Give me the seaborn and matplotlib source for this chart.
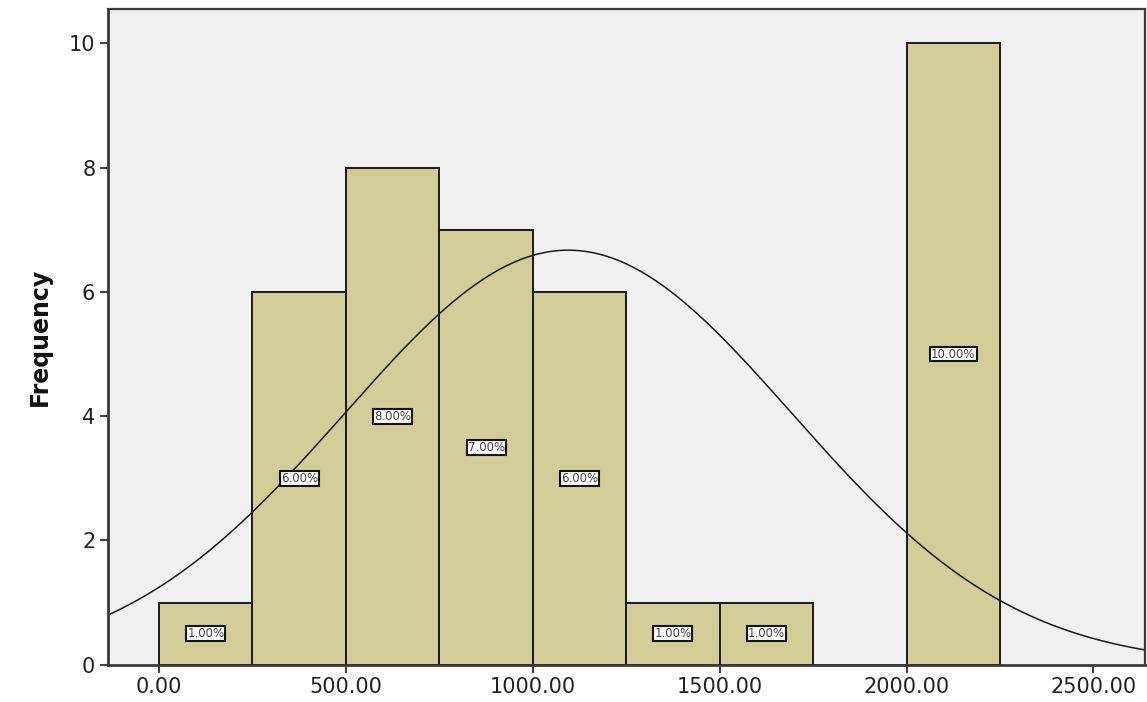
import numpy as np
import pandas as pd
import matplotlib
matplotlib.use("Agg")
import matplotlib.pyplot as plt
import seaborn as sns

# Histogram data: bin edges (width 250) and frequencies per bin
bin_edges = [0, 250, 500, 750, 1000, 1250, 1500, 1750, 2000, 2250]
frequencies = [1, 6, 8, 7, 6, 1, 1, 0, 10]
percent_labels = ["1.00%", "6.00%", "8.00%", "7.00%", "6.00%", "1.00%", "1.00%", "", "10.00%"]

# Fitted normal curve parameters
curve_mean = 1095.0
curve_sd = 598.0
x_ticks = [0, 500, 1000, 1500, 2000, 2500]
y_ticks = [0, 2, 4, 6, 8, 10]

sns.set_theme(style="white")
plt.rcParams["font.family"] = ["DejaVu Sans"]

bin_width = bin_edges[1] - bin_edges[0]
centers = [(a + b) / 2 for a, b in zip(bin_edges[:-1], bin_edges[1:])]
df = pd.DataFrame({"value": centers, "count": frequencies})
n_total = sum(frequencies)

fig = plt.figure(figsize=(11.47, 7.02), dpi=100)
ax = fig.add_axes([0.094, 0.053, 0.904, 0.934])
ax.set_facecolor("#F0F0F0")

sns.histplot(data=df, x="value", weights="count", bins=bin_edges,
             color="#D2CD96", edgecolor="#1a1a1a", linewidth=1.4,
             alpha=1.0, ax=ax)

# Normal curve scaled to frequency
xs = np.linspace(-150, 2650, 600)
ys = n_total * bin_width / (curve_sd * np.sqrt(2 * np.pi)) * np.exp(-0.5 * ((xs - curve_mean) / curve_sd) ** 2)
sns.lineplot(x=xs, y=ys, color="#1a1a1a", linewidth=1.1, ax=ax)

# Percentage labels in the middle of each bar
for c, f, lab in zip(centers, frequencies, percent_labels):
    if f > 0 and lab:
        ax.text(c, f / 2, lab, ha="center", va="center", fontsize=8.5,
                color="#444444",
                bbox=dict(boxstyle="square,pad=0.08", facecolor="white",
                          edgecolor="#111111", linewidth=1.5))

ax.set_xlim(-137, 2637)
ax.set_ylim(0, 10.55)
ax.set_xticks(x_ticks)
ax.set_xticklabels([f"{t:.2f}" for t in x_ticks])
ax.set_yticks(y_ticks)
ax.set_yticklabels([str(t) for t in y_ticks])
ax.tick_params(axis="both", which="major", direction="out", length=6,
               width=1.5, color="#444444", labelsize=15, labelcolor="#222222",
               bottom=True, left=True, pad=3)

for side in ["left", "bottom", "top", "right"]:
    ax.spines[side].set_visible(True)
    ax.spines[side].set_color("#3a3a3a")
ax.spines["left"].set_linewidth(2.0)
ax.spines["bottom"].set_linewidth(2.0)
ax.spines["top"].set_linewidth(1.6)
ax.spines["right"].set_linewidth(1.6)

ax.set_xlabel("")
ax.set_ylabel("Frequency", fontsize=17, fontweight="bold",
              color="#111111", labelpad=12)

fig.savefig("out.png", dpi=100)
